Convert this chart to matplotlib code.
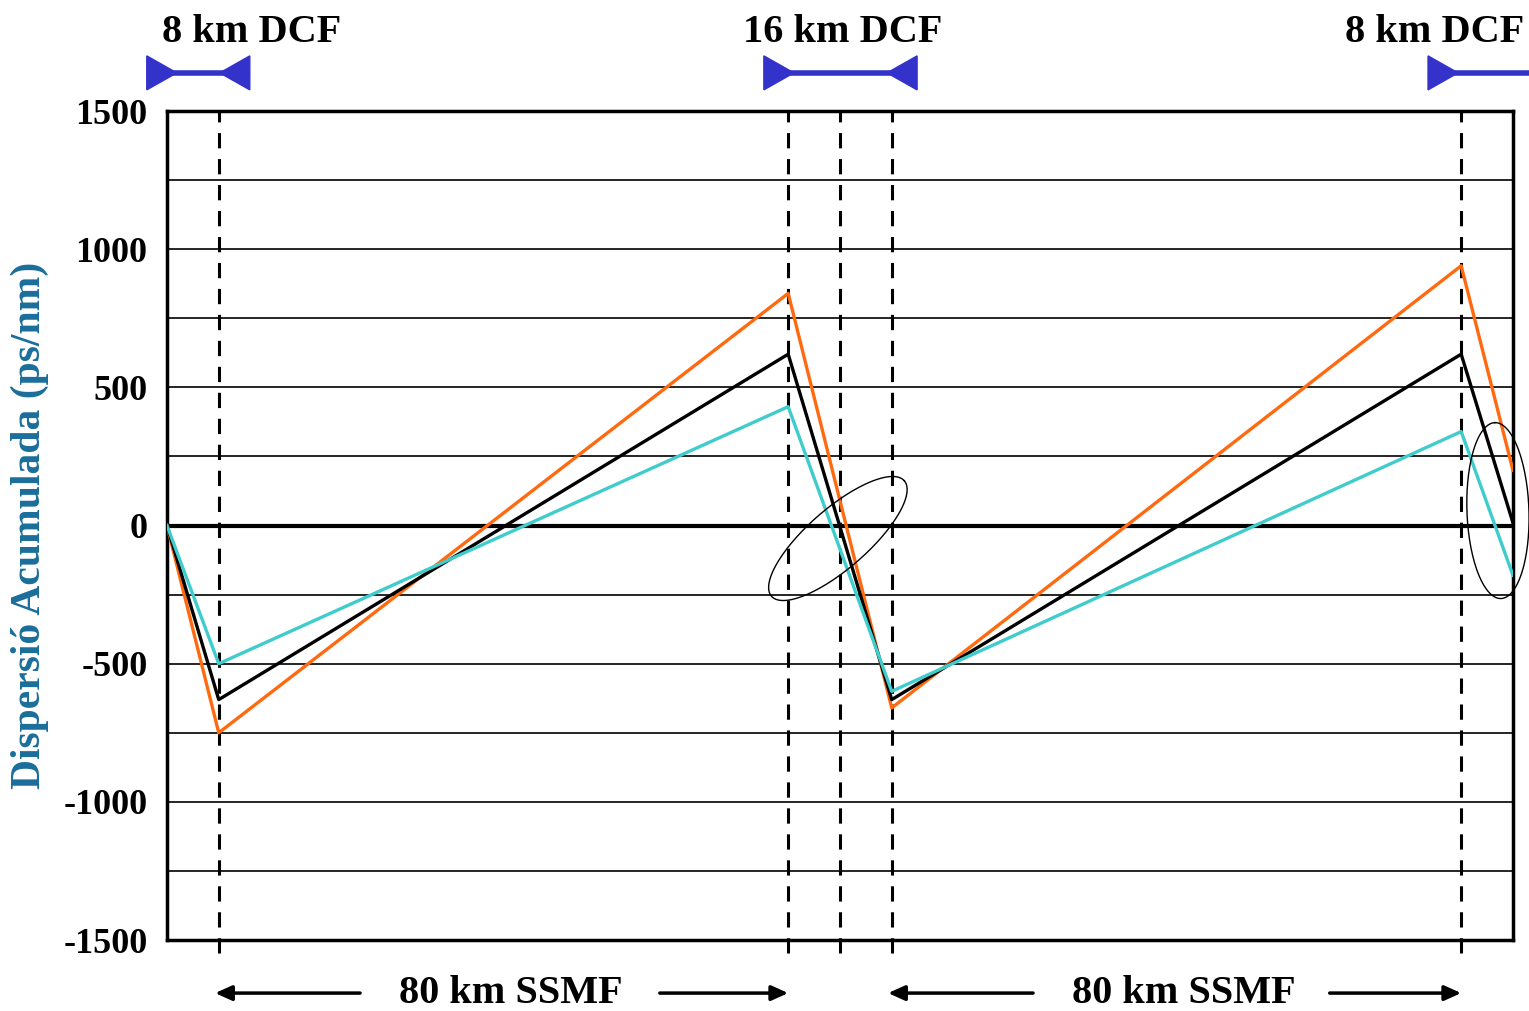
import numpy as np
import matplotlib.pyplot as plt
from matplotlib import transforms
from matplotlib.patches import Polygon

# schematic positions: 8 km DCF = 1 unit, 80 km SSMF = 11 units
x_nodes = [0, 1, 12, 14, 25, 26]
orange = [0, -750, 840, -660, 940, 200]
black = [0, -630, 620, -630, 620, 10]
cyan = [0, -500, 430, -600, 340, -180]
dash_x = [1, 12, 13, 14, 25]
yticks = [-1500, -1000, -500, 0, 500, 1000, 1500]

top_labels = ['8 km DCF', '16 km DCF', '8 km DCF']
top_label_x = [1.64, 13.06, 24.49]
top_arrows = [(-0.39, 1.6), (11.53, 14.49), (24.36, 27.2)]
bottom_label = '80 km SSMF'
bottom_label_x = [6.65, 19.64]
bottom_arrows = [(3.73, 0.93), (9.52, 12.0), (16.73, 13.93), (22.46, 25.0)]

font = 'Liberation Serif'

fig = plt.figure(figsize=(15.29, 10.11), dpi=100)
ax = fig.add_axes([0.1092, 0.0702, 0.8803, 0.8200])
ax.set_xlim(0, 26)
ax.set_ylim(-1500, 1500)

# horizontal grid
for y in np.arange(-1250, 1500, 250):
    ax.axhline(y, color='black', lw=3 if y == 0 else 1.2, zorder=1)

# dashed vertical markers, extending a bit below the axis
bt = transforms.blended_transform_factory(ax.transData, ax.transAxes)
for x in dash_x:
    ax.plot([x, x], [-0.016, 1], transform=bt, color='black', lw=2.2,
            dashes=(5, 3.5), clip_on=False, zorder=2)

ax.plot(x_nodes, orange, color='#ff6a10', lw=2.4, zorder=3)
ax.plot(x_nodes, black, color='black', lw=2.4, zorder=4)
ax.plot(x_nodes, cyan, color='#40cccc', lw=2.4, zorder=5)

# ellipses around the crossing points (drawn in pixel proportions)
px_x = 51.77
px_y = 0.2763
def draw_ellipse(cx, cy, a, b, ang):
    t = np.linspace(0, 2 * np.pi, 200)
    th = np.radians(ang)
    ex = a * np.cos(t) * np.cos(th) - b * np.sin(t) * np.sin(th)
    ey = a * np.cos(t) * np.sin(th) + b * np.sin(t) * np.cos(th)
    ax.plot(cx + ex / px_x, cy + ey / px_y, color='black', lw=1.0,
            clip_on=False, zorder=6)

draw_ellipse(12.96, -47, 88, 30, 41)
draw_ellipse(25.71, 54, 88, 31, 92)

for s in ax.spines.values():
    s.set_linewidth(2.5)
ax.set_xticks([])
ax.set_yticks(yticks)
ax.set_yticklabels([str(v) for v in yticks], fontfamily=font,
                   fontweight='bold', fontsize=26)
ax.tick_params(axis='y', length=0, pad=14)
ax.set_ylabel('Dispersió Acumulada (ps/nm)', fontfamily=font,
              fontweight='bold', fontsize=30, color='#1a6e9a', labelpad=10)

# top: DCF labels and blue markers
for lab, x in zip(top_labels, top_label_x):
    ax.text(x, 1.095, lab, transform=bt, ha='center', va='center',
            fontfamily=font, fontweight='bold', fontsize=29, clip_on=False)

ya = 1.046
th = 0.0205
tw = 0.58
for x0, x1 in top_arrows:
    ax.plot([x0, x1], [ya, ya], transform=bt, color='#3333cc', lw=4,
            clip_on=False, solid_capstyle='butt')
    ax.add_patch(Polygon([[x0, ya - th], [x0, ya + th], [x0 + tw, ya]],
                         closed=True, transform=bt, color='#3333cc',
                         clip_on=False))
    ax.add_patch(Polygon([[x1, ya - th], [x1, ya + th], [x1 - tw, ya]],
                         closed=True, transform=bt, color='#3333cc',
                         clip_on=False))

# bottom: SSMF labels and arrows
yb = -0.064
for x in bottom_label_x:
    ax.text(x, yb, bottom_label, transform=bt, ha='center', va='center',
            fontfamily=font, fontweight='bold', fontsize=29, clip_on=False)
for xs, xe in bottom_arrows:
    ax.annotate('', xy=(xe, yb), xytext=(xs, yb), xycoords=bt, textcoords=bt,
                arrowprops=dict(arrowstyle='-|>,head_length=1.0,head_width=0.45',
                                color='black', lw=2.5, shrinkA=0, shrinkB=0))

fig.savefig('out.png', dpi=100)
